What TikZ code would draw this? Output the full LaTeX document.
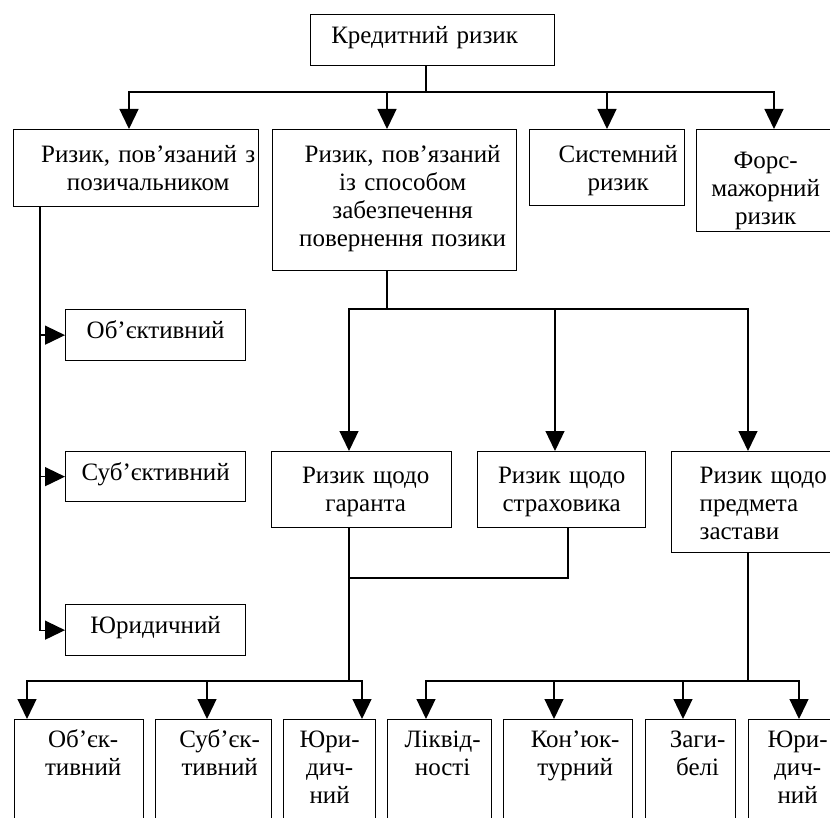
\documentclass[tikz,border=0pt]{standalone}
\usepackage{fontspec}
\setmainfont{Liberation Serif}
\usetikzlibrary{arrows.meta}
\newcommand\shtxt[2]{\hspace*{#1}\begin{tabular}[t]{@{}c@{}}#2\end{tabular}}
\begin{document}
\begin{tikzpicture}[x=1pt,y=-1pt,
  box/.style={draw, line width=1.3pt, anchor=north west, inner xsep=2pt, inner ysep=0pt,
    align=center, font=\fontsize{25pt}{28pt}\selectfont},
  conn/.style={line width=1.3pt},
  arr/.style={line width=1.3pt, -{Triangle[width=19pt,length=20pt]}}]
\useasboundingbox (0,0) rectangle (830,818);
\clip (0,0) rectangle (830,818);

% level 1
\node[box, text width=240pt, text height=29pt, text depth=22pt] (K) at (310,14) {\shtxt{-16pt}{Кредитний ризик}};

% level 2
\node[box, text width=241pt, text height=33pt, text depth=44pt] (A) at (13,129) {\shtxt{24pt}{Ризик, пов’язаний з\\позичальником}};
\node[box, text width=240pt, text height=33pt, text depth=108pt] (B) at (272,129) {\shtxt{16pt}{Ризик, пов’язаний\\із способом\\забезпечення\\повернення позики}};
\node[box, text width=151pt, text height=33pt, text depth=43pt] (C) at (529,129) {\shtxt{22pt}{Системний\\ризик}};
\node[box, text width=134pt, text height=39pt, text depth=63pt] (D) at (696,129) {Форс-\\мажорний\\ризик};

% left branch
\node[box, text width=176pt, text height=29pt, text depth=22pt] (L1) at (65,309) {Об’єктивний};
\node[box, text width=176pt, text height=29pt, text depth=21pt] (L2) at (65,451) {Суб’єктивний};
\node[box, text width=176pt, text height=29pt, text depth=22pt] (L3) at (65,604) {Юридичний};

% level 3
\node[box, text width=176pt, text height=32pt, text depth=44pt] (G) at (271,451) {\shtxt{8pt}{Ризик щодо\\гаранта}};
\node[box, text width=164pt, text height=32pt, text depth=44pt] (S) at (477,451) {Ризик щодо\\страховика};
\node[box, align=left, inner xsep=28pt, text width=130pt, text height=32pt, text depth=69pt] (Z) at (671,451) {Ризик щодо\\предмета\\застави};

% level 4
\node[box, text width=125pt, text height=28pt, text depth=130pt] (b1) at (14,719) {\shtxt{8pt}{Об’єк-\\тивний}};
\node[box, text width=112pt, text height=28pt, text depth=130pt] (b2) at (155,719) {\shtxt{12pt}{Суб’єк-\\тивний}};
\node[box, text width=88pt, text height=28pt, text depth=130pt] (b3) at (283,719) {Юри-\\дич-\\ний};
\node[box, text width=100pt, text height=28pt, text depth=130pt] (b4) at (387,719) {\shtxt{6pt}{Ліквід-\\ності}};
\node[box, text width=125pt, text height=28pt, text depth=130pt] (b5) at (503,719) {\shtxt{14pt}{Кон’юк-\\турний}};
\node[box, text width=86pt, text height=28pt, text depth=130pt] (b6) at (645,719) {\shtxt{14pt}{Заги-\\белі}};
\node[box, text width=94pt, text height=28pt, text depth=130pt] (b7) at (748,719) {Юри-\\дич-\\ний};

% junction on the trunk below G
\coordinate (gj) at (349,578);

% connectors level 1 -> 2
\draw[arr] (K.south -| 426,0) -- (426,92) -| (A.north -| 129,0);
\draw[arr] (K.south -| 426,0) -- (426,92) -| (B.north -| 387,0);
\draw[arr] (K.south -| 426,0) -- (426,92) -| (C.north -| 607,0);
\draw[arr] (K.south -| 426,0) -- (426,92) -| (D.north -| 774,0);

% left branch
\draw[arr] (A.south -| 40,0) |- (L1.west);
\draw[arr] (A.south -| 40,0) |- (L2.west);
\draw[arr] (A.south -| 40,0) |- (L3.west);

% B -> level 3
\draw[arr] (B.south -| 387,0) -- (387,309) -| (G.north -| 349,0);
\draw[arr] (B.south -| 387,0) -- (387,309) -| (S.north -| 555,0);
\draw[arr] (B.south -| 387,0) -- (387,309) -| (Z.north -| 748,0);

% G, S -> level 4 left
\draw[conn] (S.south -| 568,0) |- (gj);
\draw[arr] (G.south -| 349,0) -- (349,681) -| (b1.north -| 27,0);
\draw[arr] (G.south -| 349,0) -- (349,681) -| (b2.north -| 207,0);
\draw[arr] (G.south -| 349,0) -- (349,681) -| (b3.north -| 362,0);

% Z -> level 4 right
\draw[arr] (Z.south -| 748,0) -- (748,681) -| (b4.north -| 426,0);
\draw[arr] (Z.south -| 748,0) -- (748,681) -| (b5.north -| 554,0);
\draw[arr] (Z.south -| 748,0) -- (748,681) -| (b6.north -| 683,0);
\draw[arr] (Z.south -| 748,0) -- (748,681) -| (b7.north -| 799,0);
\end{tikzpicture}
\end{document}
